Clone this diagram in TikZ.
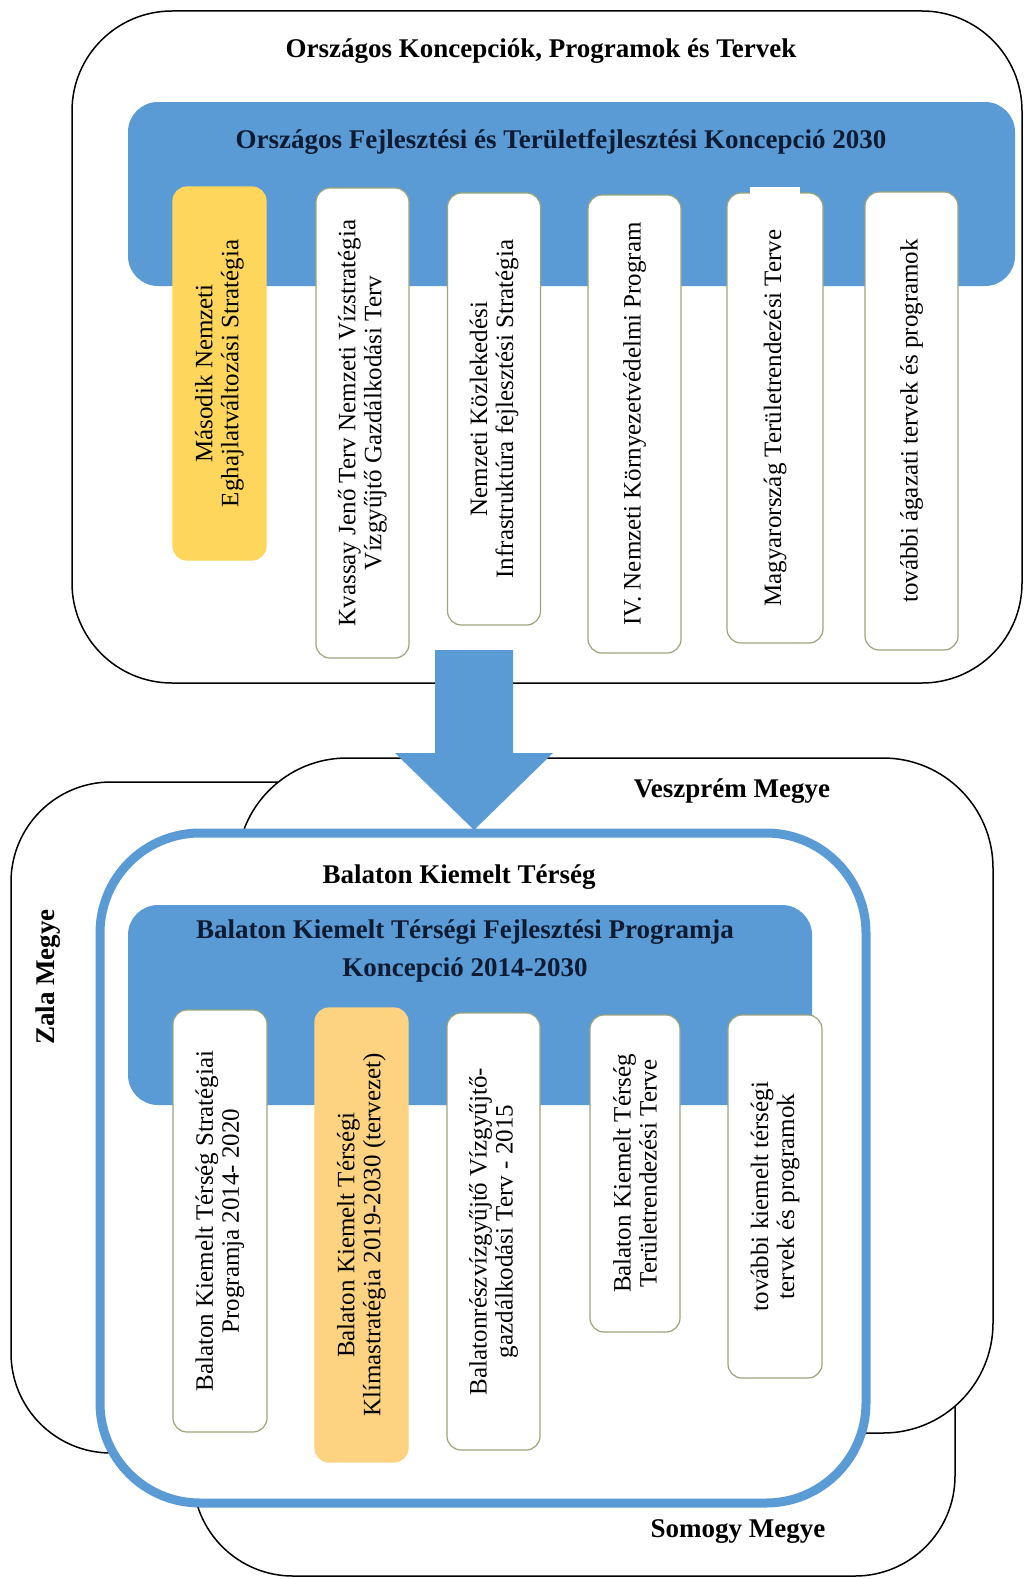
\documentclass[tikz,border=0pt]{standalone}
\usepackage{fontspec}
\setmainfont{Liberation Serif}
\definecolor{barblue}{HTML}{5B9BD5}
\definecolor{gold}{HTML}{FFD65C}
\definecolor{peach}{HTML}{FDD382}
\definecolor{boxline}{HTML}{9AA57A}
\definecolor{titleink}{HTML}{0E1B33}
\tikzset{
  region/.style={draw=black, line width=1.5pt, fill=white, rounded corners=100pt},
  bar/.style={fill=barblue, rounded corners=30pt},
  vbox/.style={draw=boxline, line width=1.2pt, fill=white, rounded corners=14pt,
    rotate=90, align=center, inner sep=0pt, minimum height=93pt,
    font=\fontsize{25}{26}\selectfont},
  hlbox/.style={vbox, fill=gold, draw=gold},
  hlboxb/.style={vbox, fill=peach, draw=peach},
  heading/.style={font=\bfseries\fontsize{27}{38}\selectfont, align=center},
  barhead/.style={heading, text=titleink},
}
\begin{document}
\begin{tikzpicture}[x=1pt,y=-1pt]
\useasboundingbox (0,0) rectangle (1032,1579);

% counties behind the Balaton region
\draw[region] (193,1000) rectangle (955,1576);
\draw[region] (11,782) rectangle (500,1453);
\draw[region, rounded corners=110pt] (237,758) rectangle (993,1433);

% national level
\draw[region] (72,11) rectangle (1022,683);
\node[heading] (natl) at (541,51) {Országos Koncepciók, Programok és Tervek};
\fill[bar] (128,102) rectangle (1015,286);
\node[barhead] (okftk) at (561,142) {Országos Fejlesztési és Területfejlesztési Koncepció 2030};

\node[hlbox, minimum width=373pt] (nes) at (219.5,373.5) {Második Nemzeti\\Eghajlatváltozási Stratégia};
\node[vbox, minimum width=470pt] (kvassay) at (362.5,423) {Kvassay Jenő Terv Nemzeti Vízstratégia\\Vízgyűjtő Gazdálkodási Terv};
\node[vbox, minimum width=432pt] (nkfs) at (494,409) {Nemzeti Közlekedési\\Infrastruktúra fejlesztési Stratégia};
\node[vbox, minimum width=458pt] (nkp) at (634.5,424) {IV. Nemzeti Környezetvédelmi Program};
\node[vbox, minimum width=450pt, minimum height=96pt] (mtt) at (775,418) {Magyarország Területrendezési Terve};
\fill[white] (750,187) rectangle (800,194.5);
\node[vbox, minimum width=458pt] (agazati) at (911.5,421) {további ágazati tervek és programok};

% arrow down to the region
\fill[barblue] (435,650) -- (513,650) -- (513,753) -- (553,753) -- (474,830)
  -- (395,753) -- (435,753) -- cycle;

% Balaton region
\draw[draw=barblue, line width=9pt, fill=white, rounded corners=100pt] (100,833) rectangle (866,1503);
\node[heading] (vesz) at (732,791) {Veszprém Megye};
\node[heading, rotate=90] (zala) at (48,977) {Zala Megye};
\node[heading] (somogy) at (738,1532) {Somogy Megye};
\node[heading] (bkt) at (459,877) {Balaton Kiemelt Térség};
\fill[bar] (128,905) rectangle (812,1105);
\node[barhead] (bktfp) at (465,951) {Balaton Kiemelt Térségi Fejlesztési Programja\\Koncepció 2014-2030};

\node[vbox, minimum width=422pt, minimum height=94pt] (bkts) at (220,1221) {Balaton Kiemelt Térség Stratégiai\\Programja 2014- 2020};
\node[hlboxb, minimum width=454pt] (klima) at (361.5,1235) {Balaton Kiemelt Térségi\\Klímastratégia 2019-2030 (tervezet)};
\node[vbox, minimum width=437pt] (vgt) at (493.5,1231.5) {Balatonrészvízgyűjtő Vízgyűjtő-\\gazdálkodási Terv - 2015};
\node[vbox, minimum width=317pt, minimum height=90pt] (bktt) at (635,1173.5) {Balaton Kiemelt Térség\\Területrendezési Terve};
\node[vbox, minimum width=363pt, minimum height=94pt] (tovabbi) at (775,1196.5) {további kiemelt térségi\\tervek és programok};
\end{tikzpicture}
\end{document}
